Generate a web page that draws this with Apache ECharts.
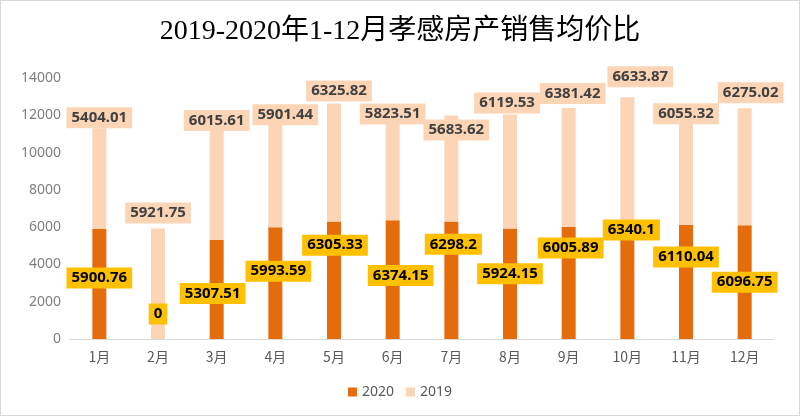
<!DOCTYPE html>
<html>
<head>
<meta charset="utf-8">
<script src="https://cdn.jsdelivr.net/npm/echarts@6/dist/echarts.min.js"></script>
<style>
html,body{margin:0;padding:0;background:#fff;}
#chart{width:800px;height:416px;box-sizing:border-box;border:1px solid #d9d9d9;}
</style>
</head>
<body>
<div id="chart"></div>
<script>
const titleText = "2019-2020年1-12月孝感房产销售均价比";
const categories = ["1月","2月","3月","4月","5月","6月","7月","8月","9月","10月","11月","12月"];
const values2020 = [5900.76, 0, 5307.51, 5993.59, 6305.33, 6374.15, 6298.2, 5924.15, 6005.89, 6340.1, 6110.04, 6096.75];
const values2019 = [5404.01, 5921.75, 6015.61, 5901.44, 6325.82, 5823.51, 5683.62, 6119.53, 6381.42, 6633.87, 6055.32, 6275.02];
const yTicks = { min: 0, max: 14000, interval: 2000 };

// label nudges (layout only, pixels)
const labelShift2020 = [[0,-6],[0,-25],[-4,4],[3,-12],[1,-35],[8,-4],[2,-36],[0,-10],[2,-35],[4,-50],[0,-25],[0,0]];
const labelShift2019 = [[0,0],[0,-5],[0,3],[10,8],[5,-2],[0,13],[5,25],[-3,-1],[4,-4],[13,-10],[0,12],[6,-5]];

const chart = echarts.init(document.getElementById('chart'));
const d2020 = values2020.map((v,i)=>({value:v,label:{offset:labelShift2020[i]}}));
const d2019 = values2019.map((v,i)=>({value:v,label:{offset:labelShift2019[i]}}));

chart.setOption({
  animation:false,
  title:{text:titleText,left:'center',top:12,textStyle:{fontFamily:'Liberation Serif, "Noto Sans CJK SC"',fontSize:28,fontWeight:'normal',color:'#000'}},
  legend:{bottom:11,left:'center',itemWidth:9,itemHeight:9,itemGap:12,icon:'rect',textStyle:{color:'#595959',fontSize:14,fontFamily:'"Noto Sans"'},data:['2020','2019']},
  grid:{left:69,right:25,top:77,bottom:76},
  xAxis:{type:'category',data:categories,axisLine:{lineStyle:{color:'#d9d9d9'}},axisTick:{show:false},
    axisLabel:{color:'#595959',fontSize:14,margin:11,fontFamily:'"Noto Sans CJK SC"'}},
  yAxis:{type:'value',min:yTicks.min,max:yTicks.max,interval:yTicks.interval,splitLine:{show:false},axisLine:{show:false},axisTick:{show:false},
    axisLabel:{color:'#7f7f7f',fontSize:14,margin:9,fontFamily:'"Noto Sans"',formatter:v=>String(v)}},
  series:[
    {name:'2020',type:'bar',stack:'a',barWidth:14,data:d2020,itemStyle:{color:'#E46C0A'},
      label:{show:true,position:'inside',backgroundColor:'#FFC000',color:'#000',fontWeight:'bold',fontSize:15,padding:[3,5],fontFamily:'"Noto Sans"'}},
    {name:'2019',type:'bar',stack:'a',barWidth:14,data:d2019,itemStyle:{color:'#FBD5B5'},
      label:{show:true,position:'top',distance:0,backgroundColor:'#FBD5B5',color:'#404040',fontWeight:'bold',fontSize:15,padding:[3,5],fontFamily:'"Noto Sans"'}}
  ]
});
</script>
</body>
</html>
